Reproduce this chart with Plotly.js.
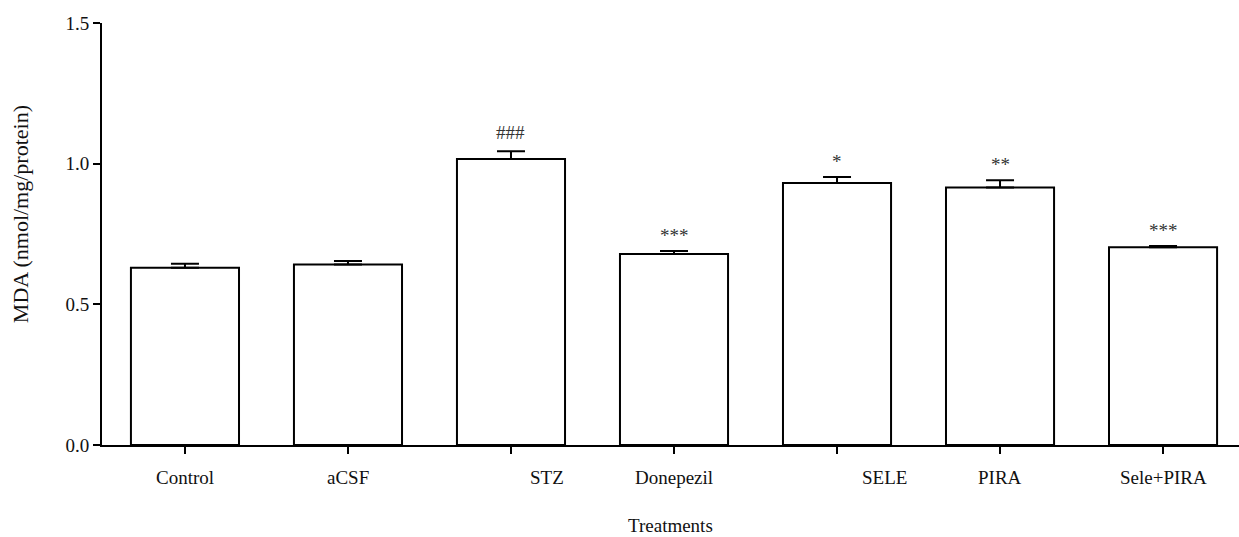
<!DOCTYPE html>
<html>
<head>
<meta charset="utf-8">
<script src="https://cdn.plot.ly/plotly-3.0.1.min.js"></script>
<style>
  html, body { margin: 0; padding: 0; background: #fff; }
  #chart { width: 1239px; height: 537px; }
</style>
</head>
<body>
<div id="chart"></div>
<script>
// MDA levels per treatment group (mean and SEM)
const treatments = ['Control', 'aCSF', 'STZ', 'Donepezil', 'SELE', 'PIRA', 'Sele+PIRA'];
const mdaMean = [0.630, 0.642, 1.017, 0.679, 0.931, 0.915, 0.703];
const mdaSem = [0.014, 0.012, 0.027, 0.011, 0.022, 0.026, 0.004];
const significance = ['', '', '###', '***', '*', '**', '***'];
const yTicks = [0, 0.5, 1.0, 1.5];
const yTickText = ['0.0', '0.5', '1.0', '1.5'];

// horizontal nudge (px) of each category label under its tick
const labelShift = [0, 0, 36, 0, 47, 0, 0];

const serif = 'Liberation Serif, Times New Roman, serif';
const idx = treatments.map((_, i) => i);

const trace = {
  type: 'bar',
  x: idx,
  y: mdaMean,
  width: 0.663,
  marker: { color: '#ffffff', line: { color: '#000000', width: 2 } },
  error_y: {
    type: 'data',
    symmetric: false,
    array: mdaSem,
    arrayminus: mdaSem.map(() => 0),
    color: '#000000',
    thickness: 2,
    width: 14
  },
  hoverinfo: 'x+y'
};

const annotations = [];

// category labels
treatments.forEach((name, i) => {
  annotations.push({
    x: i, xref: 'x', y: 0, yref: 'paper',
    yanchor: 'middle', xanchor: 'center',
    yshift: -32, xshift: labelShift[i],
    text: name, showarrow: false,
    font: { family: serif, size: 19, color: '#111' }
  });
});

// significance marks above the error bars
significance.forEach((s, i) => {
  if (!s) return;
  annotations.push({
    x: i, xref: 'x', y: mdaMean[i] + mdaSem[i], yref: 'y',
    yanchor: 'bottom', xanchor: 'center', yshift: s.startsWith('#') ? 6 : 3,
    text: s, showarrow: false,
    font: { family: serif, size: 19, color: '#333' }
  });
});

// axis titles
annotations.push({
  x: 0.5, xref: 'paper', y: 0, yref: 'paper',
  yanchor: 'middle', xanchor: 'center', yshift: -80,
  text: 'Treatments', showarrow: false,
  font: { family: serif, size: 19, color: '#111' }
});
annotations.push({
  x: 0, xref: 'paper', y: 0.547, yref: 'paper',
  xanchor: 'center', yanchor: 'middle', xshift: -82,
  textangle: -90,
  text: 'MDA (nmol/mg/protein)', showarrow: false,
  font: { family: serif, size: 22, color: '#111' }
});

const layout = {
  width: 1239,
  height: 537,
  margin: { l: 102, r: 0, t: 23, b: 92, pad: 0 },
  paper_bgcolor: '#ffffff',
  plot_bgcolor: '#ffffff',
  showlegend: false,
  xaxis: {
    range: [-0.509, 6.466],
    tickmode: 'array',
    tickvals: idx,
    showticklabels: false,
    ticks: 'outside', ticklen: 7, tickwidth: 2, tickcolor: '#000',
    showline: true, linecolor: '#000', linewidth: 2,
    showgrid: false, zeroline: false, fixedrange: true
  },
  yaxis: {
    range: [0, 1.5],
    tickmode: 'array',
    tickvals: yTicks,
    ticktext: yTickText,
    ticks: 'outside', ticklen: 7, tickwidth: 2, tickcolor: '#000',
    showline: true, linecolor: '#000', linewidth: 2,
    showgrid: false, zeroline: false, fixedrange: true,
    tickfont: { family: serif, size: 19, color: '#111' }
  },
  annotations: annotations
};

Plotly.newPlot('chart', [trace], layout, { displayModeBar: false, staticPlot: true });
</script>
</body>
</html>
